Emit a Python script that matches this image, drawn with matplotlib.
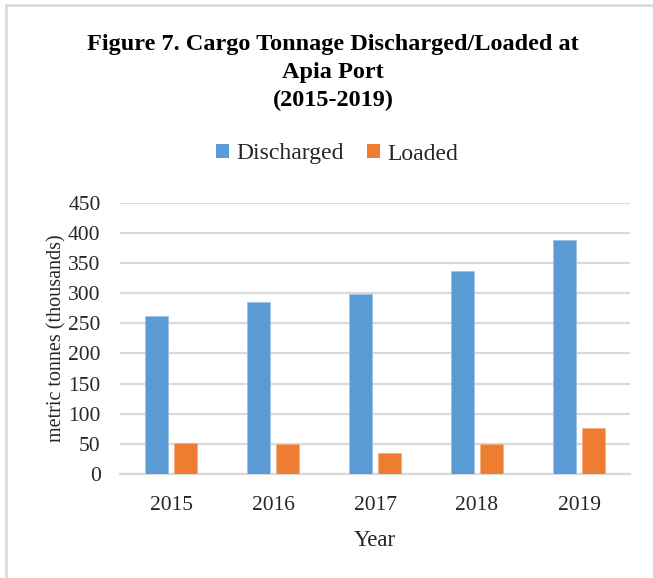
import numpy as np
import matplotlib
matplotlib.use("Agg")
import matplotlib.pyplot as plt
from matplotlib.patches import Patch
from matplotlib.lines import Line2D

# data (thousand metric tonnes)
years = ["2015", "2016", "2017", "2018", "2019"]
discharged = [262, 286, 299, 337, 388]
loaded = [51, 50, 35, 50, 76]

blue = "#5b9bd5"
orange = "#ed7d31"
grid_gray = "#d9d9d9"
text_col = "#262626"

plt.rcParams["font.family"] = ["Liberation Serif", "DejaVu Serif"]

fig = plt.figure(figsize=(6.53, 5.78), dpi=100)
ax = fig.add_axes([0.1838, 0.1799, 0.781, 0.4694])

x = np.arange(len(years))
w = 0.225
ax.bar(x - 0.145, discharged, w, color=blue, edgecolor="#9dc3e6", linewidth=0.6, zorder=3)
ax.bar(x + 0.145, loaded, w, color=orange, edgecolor="#f4b183", linewidth=0.6, zorder=3)

ax.set_xlim(-0.5, len(years) - 0.5)
ax.set_ylim(0, 450)
ax.set_yticks(range(0, 451, 50))
ax.set_xticks(x)
ax.set_xticklabels(years)
ax.grid(axis="y", color=grid_gray, linewidth=1.6, zorder=0)
for s in ["top", "right", "left"]:
    ax.spines[s].set_visible(False)
ax.spines["bottom"].set_color(grid_gray)
ax.spines["bottom"].set_linewidth(1.6)
ax.tick_params(axis="both", length=0, labelsize=15.5, colors=text_col)
ax.tick_params(axis="x", pad=15.5)
ax.tick_params(axis="y", pad=14)

ax.set_ylabel("metric tonnes (thousands)", fontsize=14.5, color=text_col, labelpad=1)
ax.set_xlabel("Year", fontsize=16.5, color=text_col, labelpad=11)

# title
fig.text(333 / 653, 1 - 34 / 578, "Figure 7. Cargo Tonnage Discharged/Loaded at\nApia Port\n(2015-2019)",
         ha="center", va="top", fontsize=17.5, fontweight="bold", color="black",
         multialignment="center", linespacing=1.42)

# legend
handles = [Patch(facecolor=blue, edgecolor="none"), Patch(facecolor=orange, edgecolor="none")]
fig.legend(handles, ["Discharged", "Loaded"], loc="center", bbox_to_anchor=(337 / 653, 1 - 154 / 578),
           ncol=2, frameon=False, fontsize=17, handlelength=0.55, handleheight=0.55,
           handletextpad=0.3, columnspacing=1.0, labelcolor=text_col)

# outer frame lines (top and left only are visible in the reference)
fig.add_artist(Line2D([6 / 653, 1], [1 - 5 / 578, 1 - 5 / 578], color=grid_gray, linewidth=1.8,
                      transform=fig.transFigure))
fig.add_artist(Line2D([6 / 653, 6 / 653], [0, 1 - 5 / 578], color=grid_gray, linewidth=1.8,
                      transform=fig.transFigure))

fig.savefig("out.png", dpi=100)
